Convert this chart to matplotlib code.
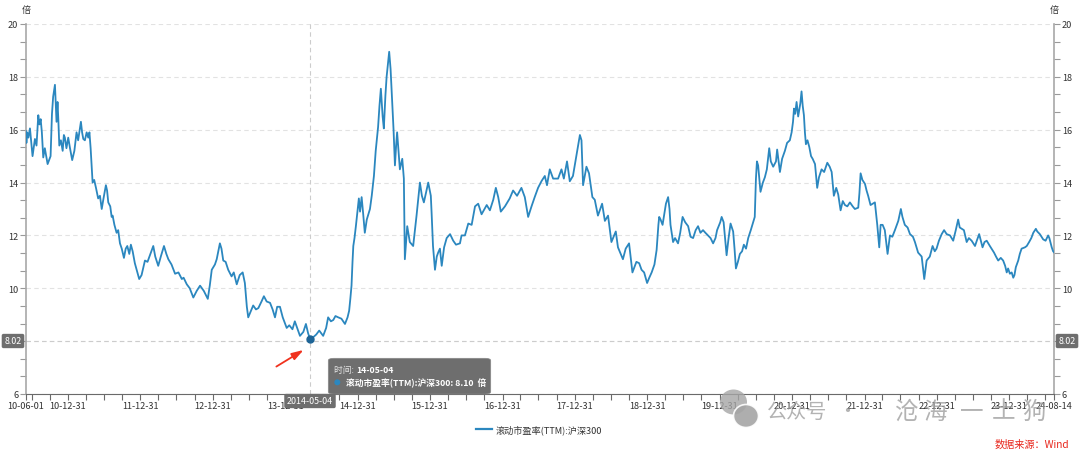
import numpy as np
import pandas as pd
import matplotlib
matplotlib.use("Agg")
import matplotlib.pyplot as plt
import matplotlib.dates as mdates
from matplotlib.ticker import MultipleLocator
from matplotlib.patches import FancyBboxPatch, Ellipse
from matplotlib.lines import Line2D
from matplotlib.text import Annotation

plt.rcParams['font.family'] = ['Noto Sans CJK SC', 'DejaVu Sans']

# 滚动市盈率(TTM):沪深300
dates = [
    "2010-06-01", "2010-06-04", "2010-06-08", "2010-06-14", "2010-06-22", "2010-07-05", "2010-07-17", "2010-07-25",
    "2010-08-03", "2010-08-09", "2010-08-15", "2010-08-21", "2010-08-28", "2010-09-05", "2010-09-19", "2010-10-04",
    "2010-10-11", "2010-10-17", "2010-10-26", "2010-11-03", "2010-11-08", "2010-11-12", "2010-11-17", "2010-11-25",
    "2010-12-04", "2010-12-10", "2010-12-15", "2010-12-23",
    "2011-01-01", "2011-01-10", "2011-01-21", "2011-02-01", "2011-02-12", "2011-02-20", "2011-03-06", "2011-03-12",
    "2011-03-18", "2011-03-26", "2011-04-04", "2011-04-12", "2011-04-18", "2011-04-24", "2011-05-04", "2011-05-12",
    "2011-05-21", "2011-06-01", "2011-06-10", "2011-06-19", "2011-06-28", "2011-07-10", "2011-07-16", "2011-07-22",
    "2011-08-01", "2011-08-08", "2011-08-13", "2011-08-22", "2011-09-02", "2011-09-10", "2011-09-19", "2011-09-28",
    "2011-10-09", "2011-10-18", "2011-10-26", "2011-11-05", "2011-11-13", "2011-11-22", "2011-12-03", "2011-12-12",
    "2011-12-25",
    "2012-01-06", "2012-01-23", "2012-02-05", "2012-02-17", "2012-03-05", "2012-03-15", "2012-03-30", "2012-04-12",
    "2012-04-28", "2012-05-10", "2012-05-20", "2012-06-05", "2012-06-23", "2012-07-10", "2012-07-27", "2012-08-05",
    "2012-08-21", "2012-09-05", "2012-09-23", "2012-10-10", "2012-10-27", "2012-11-15", "2012-12-05", "2012-12-15",
    "2012-12-25",
    "2013-01-10", "2013-01-19", "2013-02-04", "2013-02-12", "2013-02-21", "2013-03-05", "2013-03-18", "2013-04-04",
    "2013-04-15", "2013-04-30", "2013-05-15", "2013-05-30", "2013-06-10", "2013-06-20", "2013-06-27", "2013-07-08",
    "2013-07-22", "2013-08-05", "2013-08-17", "2013-09-02", "2013-09-14", "2013-09-28", "2013-10-15", "2013-10-28",
    "2013-11-09", "2013-11-20", "2013-12-04", "2013-12-18",
    "2014-01-07", "2014-01-20", "2014-02-05", "2014-02-17", "2014-03-01", "2014-03-15", "2014-04-01", "2014-04-14",
    "2014-04-25", "2014-05-04", "2014-05-21", "2014-06-05", "2014-06-20", "2014-07-10", "2014-07-25", "2014-08-04",
    "2014-08-18", "2014-08-30", "2014-09-10", "2014-09-24", "2014-10-10", "2014-10-28", "2014-11-10", "2014-11-18",
    "2014-11-24", "2014-11-30", "2014-12-05", "2014-12-09", "2014-12-15", "2014-12-22",
    "2015-01-06", "2015-01-12", "2015-01-20", "2015-01-28", "2015-02-05", "2015-02-15", "2015-03-03", "2015-03-12",
    "2015-03-23", "2015-04-01", "2015-04-13", "2015-04-20", "2015-04-27", "2015-05-06", "2015-05-12", "2015-05-20",
    "2015-05-26", "2015-06-08", "2015-06-15", "2015-06-20", "2015-06-30", "2015-07-07", "2015-07-13", "2015-07-18",
    "2015-07-25", "2015-08-01", "2015-08-13", "2015-08-21", "2015-08-26", "2015-09-07", "2015-09-20", "2015-10-07",
    "2015-10-24", "2015-11-10", "2015-11-20", "2015-11-30", "2015-12-10", "2015-12-22",
    "2016-01-04", "2016-01-08", "2016-01-15", "2016-01-25", "2016-02-03", "2016-02-10", "2016-02-19", "2016-02-28",
    "2016-03-11", "2016-03-24", "2016-04-10", "2016-04-26", "2016-05-10", "2016-05-30", "2016-06-07", "2016-06-24",
    "2016-07-11", "2016-07-28", "2016-08-14", "2016-08-30", "2016-09-16", "2016-10-12", "2016-10-28", "2016-11-14",
    "2016-11-27", "2016-12-09", "2016-12-22",
    "2017-01-12", "2017-02-05", "2017-02-22", "2017-03-14", "2017-04-05", "2017-04-22", "2017-05-09", "2017-05-26",
    "2017-06-11", "2017-06-28", "2017-07-15", "2017-08-01", "2017-08-12", "2017-08-26", "2017-09-12", "2017-10-07",
    "2017-10-24", "2017-11-05", "2017-11-21", "2017-12-05", "2017-12-21",
    "2018-01-08", "2018-01-25", "2018-02-02", "2018-02-10", "2018-02-27", "2018-03-12", "2018-03-29", "2018-04-10",
    "2018-04-26", "2018-05-17", "2018-05-31", "2018-06-16", "2018-07-03", "2018-07-25", "2018-08-05", "2018-08-30",
    "2018-09-13", "2018-09-30", "2018-10-17", "2018-11-06", "2018-11-20", "2018-12-02", "2018-12-15", "2018-12-30",
    "2019-01-10", "2019-01-22", "2019-02-05", "2019-02-16", "2019-02-25", "2019-03-01", "2019-03-08", "2019-03-18",
    "2019-04-04", "2019-04-15", "2019-04-22", "2019-04-27", "2019-05-05", "2019-05-10", "2019-05-20", "2019-06-04",
    "2019-06-15", "2019-06-27", "2019-07-10", "2019-07-25", "2019-08-06", "2019-08-19", "2019-09-01", "2019-09-13",
    "2019-09-25", "2019-10-08", "2019-10-20", "2019-11-02", "2019-11-15", "2019-11-28", "2019-12-10", "2019-12-18",
    "2020-01-03", "2020-01-10", "2020-01-20", "2020-02-04", "2020-02-14", "2020-02-24", "2020-03-08", "2020-03-15",
    "2020-03-22", "2020-04-01", "2020-04-11", "2020-04-22", "2020-05-01", "2020-05-12", "2020-05-23", "2020-06-05",
    "2020-06-17", "2020-06-25", "2020-07-01", "2020-07-06", "2020-07-12", "2020-07-24", "2020-08-05", "2020-08-15",
    "2020-08-25", "2020-09-06", "2020-09-14", "2020-09-26", "2020-10-10", "2020-10-16", "2020-10-30", "2020-11-10",
    "2020-11-24", "2020-12-05", "2020-12-19", "2020-12-28",
    "2021-01-04", "2021-01-09", "2021-01-15", "2021-01-22", "2021-01-30", "2021-02-10", "2021-02-16", "2021-02-22",
    "2021-02-28", "2021-03-05", "2021-03-10", "2021-03-18", "2021-03-27", "2021-04-05", "2021-04-13", "2021-04-25",
    "2021-05-06", "2021-05-15", "2021-05-28", "2021-06-10", "2021-06-26", "2021-07-08", "2021-07-18", "2021-07-29",
    "2021-08-10", "2021-08-20", "2021-09-01", "2021-09-12", "2021-09-23", "2021-10-05", "2021-10-18", "2021-11-01",
    "2021-11-12", "2021-11-29", "2021-12-05", "2021-12-11", "2021-12-20",
    "2022-01-02", "2022-01-10", "2022-01-18", "2022-01-30", "2022-02-10", "2022-02-21", "2022-03-05", "2022-03-15",
    "2022-03-22", "2022-04-01", "2022-04-12", "2022-04-26", "2022-05-08", "2022-05-20", "2022-06-02", "2022-06-19",
    "2022-07-02", "2022-07-10", "2022-07-22", "2022-08-05", "2022-08-17", "2022-09-01", "2022-09-11", "2022-09-27",
    "2022-10-15", "2022-10-28", "2022-11-09", "2022-11-25", "2022-12-09", "2022-12-20", "2022-12-29",
    "2023-01-10", "2023-01-24", "2023-02-05", "2023-02-18", "2023-03-07", "2023-03-23", "2023-04-05", "2023-04-17",
    "2023-04-25", "2023-05-05", "2023-05-16", "2023-05-30", "2023-06-10", "2023-06-24", "2023-07-11", "2023-07-20",
    "2023-08-01", "2023-08-18", "2023-08-28", "2023-09-08", "2023-09-24", "2023-10-15", "2023-10-25", "2023-11-05",
    "2023-11-18", "2023-11-30", "2023-12-10", "2023-12-18", "2023-12-25",
    "2024-01-03", "2024-01-12", "2024-01-20", "2024-01-26", "2024-02-02", "2024-02-14", "2024-02-22", "2024-03-02",
    "2024-03-19", "2024-03-28", "2024-04-09", "2024-04-20", "2024-04-30", "2024-05-13", "2024-05-20", "2024-06-02",
    "2024-06-19", "2024-07-01", "2024-07-14", "2024-07-20", "2024-08-01", "2024-08-08", "2024-08-14",
]
pe = [
    15.95, 15.5, 15.9, 15.7, 16.05, 15.0, 15.65, 15.4,
    16.55, 16.2, 16.4, 15.9, 14.95, 15.3, 14.7, 15.0,
    16.6, 17.25, 17.7, 16.3, 17.05, 16.4, 15.4, 15.6,
    15.2, 15.8, 15.7, 15.3,
    15.7, 15.3, 14.85, 15.2, 15.9, 15.6, 16.3, 15.9,
    15.65, 15.6, 15.9, 15.7, 15.9, 15.3, 14.0, 14.1,
    13.8, 13.4, 13.5, 13.0, 13.4, 13.9, 13.7, 13.25,
    13.1, 12.7, 12.75, 12.4, 12.1, 12.2, 11.7, 11.5,
    11.15, 11.5, 11.6, 11.3, 11.65, 11.4, 10.95, 10.7,
    10.35,
    10.5, 11.05, 11.0, 11.25, 11.6, 11.2, 10.85, 11.2,
    11.6, 11.3, 11.1, 10.9, 10.55, 10.6, 10.35, 10.4,
    10.15, 10.0, 9.65, 9.9, 10.1, 9.9, 9.6, 10.1,
    10.7,
    10.9, 11.1, 11.7, 11.5, 11.05, 11.0, 10.7, 10.45,
    10.6, 10.15, 10.5, 10.6, 10.2, 9.3, 8.9, 9.1,
    9.35, 9.2, 9.25, 9.5, 9.7, 9.5, 9.45, 9.2,
    8.9, 9.3, 9.3, 8.9,
    8.5, 8.6, 8.45, 8.75, 8.5, 8.2, 8.35, 8.65,
    8.3, 8.10, 8.15, 8.25, 8.4, 8.2, 8.5, 8.9,
    8.75, 8.8, 8.95, 8.9, 8.85, 8.65, 8.9, 9.15,
    9.6, 10.1, 11.0, 11.6, 11.9, 12.35,
    13.4, 12.9, 13.45, 12.8, 12.1, 12.6, 13.0, 13.5,
    14.25, 15.2, 16.1, 16.9, 17.55, 16.5, 16.05, 17.3,
    18.0, 18.95, 18.3, 17.55, 16.0, 14.65, 15.4, 15.9,
    15.2, 14.5, 14.9, 14.15, 11.1, 12.35, 11.75, 11.6,
    12.75, 14.0, 13.5, 13.25, 13.6, 14.0,
    13.5, 12.85, 11.6, 10.7, 11.2, 11.35, 11.5, 10.85,
    11.55, 11.9, 12.05, 11.8, 11.65, 11.7, 12.0, 12.0,
    12.45, 12.4, 13.1, 13.2, 12.8, 13.15, 12.95, 13.35,
    13.8, 13.45, 12.9,
    13.1, 13.4, 13.7, 13.5, 13.8, 13.45, 12.7, 13.1,
    13.45, 13.8, 14.05, 14.25, 13.9, 14.5, 14.15, 14.15,
    14.5, 14.15, 14.8, 14.05, 14.25,
    15.05, 15.8, 15.6, 13.9, 14.6, 14.35, 13.45, 13.35,
    12.75, 13.2, 12.55, 12.75, 11.75, 12.15, 11.55, 11.1,
    11.5, 11.7, 10.6, 11.0, 10.95, 10.7, 10.6, 10.2,
    10.4, 10.6, 10.9, 11.45, 12.4, 12.7, 12.6, 12.4,
    13.2, 13.45, 13.0, 12.4, 12.0, 11.75, 11.9, 11.7,
    12.1, 12.7, 12.5, 12.35, 11.95, 11.9, 12.2, 12.35,
    12.1, 12.2, 12.1, 12.0, 11.9, 11.7, 11.9, 12.2,
    12.5, 12.7, 12.5, 11.25, 11.9, 12.45, 12.15, 11.5,
    10.75, 11.0, 11.3, 11.4, 11.65, 11.5, 11.9, 12.2,
    12.5, 12.7, 14.15, 14.8, 14.65, 13.65, 14.0, 14.2,
    14.5, 15.3, 14.8, 14.6, 14.8, 15.25, 14.4, 14.9,
    15.2, 15.5, 15.6, 15.9,
    16.3, 16.8, 16.6, 17.05, 16.5, 17.0, 17.45, 16.9,
    16.55, 15.9, 15.45, 15.6, 15.35, 15.0, 14.9, 14.7,
    13.8, 14.2, 14.5, 14.4, 14.75, 14.6, 14.4, 13.5,
    13.8, 13.55, 12.95, 13.3, 13.15, 13.1, 13.25, 13.1,
    13.0, 13.05, 13.6, 14.35, 14.1,
    13.95, 13.7, 13.5, 13.15, 13.2, 13.25, 12.4, 11.55,
    12.4, 12.4, 12.2, 11.3, 12.0, 11.95, 12.2, 12.55,
    13.0, 12.7, 12.4, 12.3, 12.05, 11.95, 11.75, 11.35,
    11.2, 10.35, 11.05, 11.2, 11.6, 11.4, 11.5,
    11.8, 12.05, 12.2, 12.05, 12.0, 11.8, 12.2, 12.6,
    12.3, 12.25, 12.2, 11.75, 11.9, 11.8, 11.6, 11.8,
    12.05, 11.55, 11.75, 11.8, 11.6, 11.35, 11.2, 11.05,
    11.15, 11.05, 10.85, 10.6, 10.75,
    10.55, 10.6, 10.4, 10.5, 10.8, 11.05, 11.3, 11.5,
    11.55, 11.6, 11.75, 11.9, 12.1, 12.25, 12.15, 12.05,
    11.85, 11.8, 12.0, 11.9, 11.55, 11.4, 11.35,
]

tick_dates = ["2010-06-01", "2010-12-31", "2011-12-31", "2012-12-31", "2013-12-31", "2014-12-31",
              "2015-12-31", "2016-12-31", "2017-12-31", "2018-12-31", "2019-12-31", "2020-12-31",
              "2021-12-31", "2022-12-31", "2023-12-31", "2024-08-14"]
tick_labels = [d[2:] for d in tick_dates]
y_ticks = [6, 8, 10, 12, 14, 16, 18, 20]

hover_date = "2014-05-04"
hover_pe = 8.10
pointer_y = 8.02
series_name = "滚动市盈率(TTM):沪深300"

LINE = "#2b87bf"
W, H = 1080, 452


def fx(px):
    return px / W


def fy(py):
    return 1 - py / H


fig = plt.figure(figsize=(W / 100, H / 100), dpi=100)
ax = fig.add_axes([fx(25.8), fy(395), (1054.3 - 25.8) / W, (395 - 25) / H])

t = pd.to_datetime(dates)
ax.plot(t, pe, color=LINE, lw=1.3, solid_joinstyle="round", zorder=3)
ax.set_xlim(pd.Timestamp(tick_dates[0]), pd.Timestamp(tick_dates[-1]))
ax.set_ylim(6, 20)

# 坐标轴样式
for s in ["left", "right"]:
    ax.spines[s].set_color("#a8a8a8")
    ax.spines[s].set_linewidth(1.2)
ax.spines["bottom"].set_color("#6a6a6a")
ax.spines["top"].set_visible(False)

ax.set_yticks(y_ticks)
ax.yaxis.set_minor_locator(MultipleLocator(2 / 3))
ax.tick_params(axis="y", which="both", left=True, right=True, labelleft=True, labelright=True,
               length=4, width=0.8, color="#999999", labelsize=6.6, labelcolor="#333333", pad=1.5)
ax.set_xticks(pd.to_datetime(tick_dates))
ax.set_xticklabels(tick_labels)
ax.xaxis.set_minor_locator(mdates.MonthLocator(bymonth=(3, 6, 9, 12), bymonthday=-1))
ax.tick_params(axis="x", which="both", length=4, width=0.8, color="#6a6a6a",
               labelsize=6.6, labelcolor="#333333", pad=1)

ax.grid(axis="y", which="major", ls=(0, (4, 3)), color="#e2e2e2", lw=0.8)

# 十字准线
ax.axvline(pd.Timestamp(hover_date), color="#cccccc", lw=0.8, ls=(0, (4, 3)), zorder=2)
ax.axhline(pointer_y, color="#cccccc", lw=0.8, ls=(0, (4, 3)), zorder=2)
ax.plot(pd.Timestamp(hover_date), hover_pe, "o", ms=5, mfc="#1d6496", mec="#1d6496", zorder=5)

lab = dict(color="white", fontsize=6.4, ha="center", va="center", zorder=10)
box = dict(boxstyle="round,pad=0.3,rounding_size=0.2", fc="#6e6e6e", ec="none")
fig.text(fx(13), fy(342), f"{pointer_y:.2f}", bbox=box, **lab)
fig.text(fx(1067), fy(342), f"{pointer_y:.2f}", bbox=box, **lab)
fig.text(fx(310), fy(402), pd.Timestamp(hover_date).strftime("%Y-%m-%d"), bbox=box, **lab)

# 红色箭头
ax.annotate("", xy=(306, H - 349.5), xytext=(274, H - 369), xycoords="figure pixels",
            textcoords="figure pixels",
            arrowprops=dict(arrowstyle="-|>,head_length=0.7,head_width=0.22", color="#f0321e", lw=1.3))

# 提示框
tip = FancyBboxPatch((fx(328.3), fy(395)), (490.7 - 328.3) / W, (395 - 359.3) / H,
                     boxstyle="round,pad=0,rounding_size=0.005", transform=fig.transFigure,
                     fc="#666666", ec="#888888", lw=0.5, alpha=0.95, zorder=8)
fig.add_artist(tip)
t1 = fig.text(fx(334), fy(370.7), "时间: ", color="#e6e6e6", fontsize=6.3, va="center", zorder=9)
fig.add_artist(Annotation(pd.Timestamp(hover_date).strftime("%y-%m-%d"), xy=(1, 0.5), xycoords=t1,
                          color="white", fontsize=6.3, fontweight="bold", va="center", ha="left",
                          zorder=9))
fig.add_artist(Ellipse((fx(337.3), fy(383.3)), 6 / W, 6 / H, transform=fig.transFigure,
                       fc=LINE, ec="none", zorder=9))
fig.text(fx(345.5), fy(383.3), f"{series_name}: {hover_pe:.2f}  倍", color="white", fontsize=6.3,
         fontweight="bold", va="center", zorder=9)

# 单位
fig.text(fx(26), fy(10), "倍", fontsize=6.6, color="#333333", ha="center", va="center")
fig.text(fx(1054), fy(10), "倍", fontsize=6.6, color="#333333", ha="center", va="center")

# 图例
fig.legend([Line2D([], [], color=LINE, lw=1.6)], [series_name], loc="center",
           bbox_to_anchor=(fx(539), fy(430)), frameon=False, fontsize=6.6,
           handlelength=1.7, handletextpad=0.4, labelcolor="#333333")

fig.text(fx(1069), fy(445), "数据来源：Wind", color="#e8261c", fontsize=7.3, ha="right", va="center")

# 水印
wm = dict(color="#9a9a9a", alpha=0.75, va="center", zorder=6)
fig.add_artist(Ellipse((fx(733.5), fy(403)), 27 / W, 25 / H, transform=fig.transFigure,
                       fc="#a5a5a5", ec="none", alpha=0.8, zorder=6))
fig.add_artist(Ellipse((fx(746), fy(417)), 25 / W, 23 / H, transform=fig.transFigure,
                       fc="#a5a5a5", ec="white", lw=1.2, alpha=0.9, zorder=6))
fig.text(fx(767), fy(412), "公众号", fontsize=14.5, **wm)
fig.text(fx(837), fy(412), "·", fontsize=14.5, **wm)
for ch, px in zip("沧海一土狗", [895, 924, 960, 992, 1022]):
    fig.text(fx(px), fy(412), ch, fontsize=17, **wm)

fig.savefig("out.png", dpi=100)
